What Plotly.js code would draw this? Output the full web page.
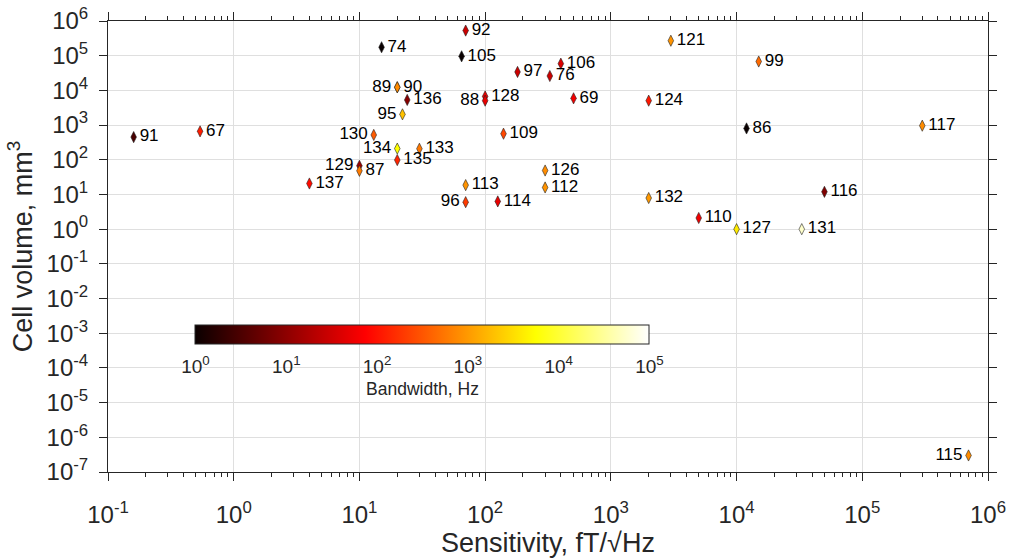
<!DOCTYPE html>
<html>
<head>
<meta charset="utf-8">
<script src="https://cdn.plot.ly/plotly-3.0.1.min.js"></script>
<style>
  html, body { margin: 0; padding: 0; background: #fff; }
  #chart { width: 1009px; height: 559px; }
</style>
</head>
<body>
<div id="chart"></div>
<script>
// Magnetometer reference numbers
const refIds = ['91','67','74','89','90','136','95','130','134','133','135','129','87','137',
                '92','105','97','106','76','128','88','69','124','121','99','86','109','126',
                '113','112','96','114','132','117','116','110','127','131','115'];

// Sensitivity, fT/sqrt(Hz)
const sensitivity = [0.16, 0.54, 15, 20, 20, 24, 22, 13, 20, 30, 20, 10, 10, 4.0,
                     70, 65, 181, 400, 327, 100, 100, 505, 2000, 3000, 15000, 12000, 140, 300,
                     70, 300, 70, 126, 2000, 3.0e5, 5.0e4, 5000, 10000, 33000, 7.0e5];

// Cell volume, mm^3
const cellVolume = [450, 660, 1.75e5, 1.23e4, 1.23e4, 5300, 2040, 520, 210, 208, 98, 67, 48, 20.7,
                    5.3e5, 9.6e4, 3.4e4, 5.9e4, 2.6e4, 6700, 5060, 5900, 5060, 2.7e5, 6.8e4, 800, 564, 49,
                    18.6, 15.9, 6.0, 6.3, 7.9, 960, 11.9, 2.1, 1.0, 1.0, 3.0e-7];

// Bandwidth, Hz
const bandwidth = [3, 120, 1, 800, 800, 9, 2000, 350, 5600, 560, 140, 13, 600, 90,
                   30, 1, 30, 40, 30, 50, 50, 60, 110, 900, 450, 1, 250, 800,
                   900, 900, 200, 50, 1000, 800, 8, 60, 4000, 56000, 800];

// Decade exponents shown on each axis and on the colour bar
const xExponents = [-1, 0, 1, 2, 3, 4, 5, 6];
const yExponents = [-7, -6, -5, -4, -3, -2, -1, 0, 1, 2, 3, 4, 5, 6];
const cbarExponents = [0, 1, 2, 3, 4, 5];

// Labels drawn on the left-hand side of their marker
const labelsOnLeft = new Set(['89', '95', '130', '134', '129', '96', '88', '115']);

const ink = '#262626';
const gridGray = '#dfdfdf';
const fontFamily = 'Liberation Sans, Arial, Helvetica, sans-serif';

const powerLabel = e => '10<sup>' + e + '</sup>';

// Minor ticks at 2..9 within every decade of the x range
const xMinor = [];
for (let e = xExponents[0]; e < xExponents[xExponents.length - 1]; e++) {
  for (let m = 2; m <= 9; m++) xMinor.push(m * Math.pow(10, e));
}

// MATLAB-style "hot" colour map
const hotScale = [
  [0.0,   'rgb(10,0,0)'],
  [0.375, 'rgb(255,0,0)'],
  [0.75,  'rgb(255,255,0)'],
  [1.0,   'rgb(255,255,255)']
];

const trace = {
  type: 'scatter',
  mode: 'markers+text',
  x: sensitivity,
  y: cellVolume,
  text: refIds,
  textposition: refIds.map(id => labelsOnLeft.has(id) ? 'middle left' : 'middle right'),
  textfont: { family: fontFamily, size: 17, color: '#000' },
  cliponaxis: false,
  hoverinfo: 'skip',
  marker: {
    symbol: 'diamond-tall',
    size: 8,
    color: bandwidth.map(v => Math.log10(v)),
    colorscale: hotScale,
    cmin: 0,
    cmax: 5,
    line: { color: '#222', width: 0.6 },
    colorbar: {
      orientation: 'h',
      x: 0.0994,
      xanchor: 'left',
      y: 0.326,
      yanchor: 'top',
      len: 0.516,
      lenmode: 'fraction',
      thickness: 19,
      thicknessmode: 'pixels',
      xpad: 0,
      ypad: 0,
      outlinecolor: ink,
      outlinewidth: 1,
      tickvals: cbarExponents,
      ticktext: cbarExponents.map(powerLabel),
      // invisible ticks only add spacing between the bar and its labels
      ticks: 'outside',
      ticklen: 6,
      tickcolor: 'rgba(0,0,0,0)',
      tickfont: { family: fontFamily, size: 19, color: ink },
      title: { text: 'Bandwidth, Hz', side: 'bottom', font: { family: fontFamily, size: 17.5, color: ink } },
      bgcolor: 'rgba(0,0,0,0)'
    }
  },
  showlegend: false
};

const axisCommon = {
  type: 'log',
  tickmode: 'array',
  exponentformat: 'power',
  showgrid: true,
  gridcolor: gridGray,
  gridwidth: 1,
  zeroline: false,
  showline: true,
  linecolor: ink,
  linewidth: 1,
  mirror: 'allticks',
  ticks: 'outside',
  ticklen: 8,
  tickwidth: 1,
  tickcolor: ink,
  tickfont: { family: fontFamily, size: 24, color: ink }
};

const layout = {
  width: 1009,
  height: 559,
  margin: { l: 108, r: 21, t: 21, b: 87 },
  paper_bgcolor: '#fff',
  plot_bgcolor: '#fff',
  font: { family: fontFamily, color: ink },
  xaxis: Object.assign({}, axisCommon, {
    range: [-1, 6],
    tickvals: xExponents.map(e => Math.pow(10, e)),
    ticktext: xExponents.map(powerLabel),
    ticklabelstandoff: 13,
    minor: { tickmode: 'array', tickvals: xMinor, ticks: 'outside', ticklen: 4, tickcolor: ink, showgrid: false },
    title: { text: 'Sensitivity, fT/\u221AHz', font: { family: fontFamily, size: 27, color: ink }, standoff: 4 }
  }),
  yaxis: Object.assign({}, axisCommon, {
    range: [-7, 6],
    tickvals: yExponents.map(e => Math.pow(10, e)),
    ticktext: yExponents.map(powerLabel),
    ticklabelstandoff: 6,
    title: { text: 'Cell volume, mm<sup>3</sup>', font: { family: fontFamily, size: 27, color: ink }, standoff: 6 }
  })
};

Plotly.newPlot('chart', [trace], layout, { displayModeBar: false, staticPlot: true });
</script>
</body>
</html>
